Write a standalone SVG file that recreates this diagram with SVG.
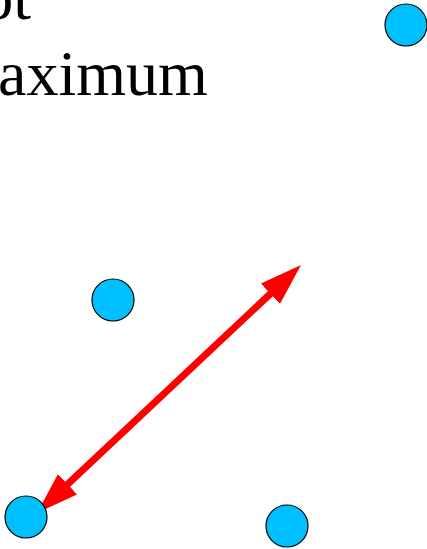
<svg xmlns="http://www.w3.org/2000/svg" width="427" height="549" viewBox="0 0 427 549">
<style>
.node circle { fill: #00BFFF; stroke: #000; stroke-width: 1.2; }
.lbl { font-family: "Liberation Serif", "Times New Roman", serif; font-size: 64px; fill: #000; }
.conn { stroke: #FF0000; stroke-width: 7; fill: none; }
</style>
<defs>
<marker id="head" viewBox="0 0 42 28" refX="21" refY="14" markerWidth="42" markerHeight="28" markerUnits="userSpaceOnUse" orient="auto-start-reverse">
<path d="M0,0 L42,14 L0,28 z" fill="#FF0000"/>
</marker>
</defs>
<g id="text">
<text class="lbl" x="31" y="19" text-anchor="end">ot</text>
<text class="lbl" x="-2" y="95">aximum</text>
</g>
<g id="connectors">
<line class="conn" x1="52.3" y1="498.6" x2="285.7" y2="279.4" marker-start="url(#head)" marker-end="url(#head)"/>
</g>
<g id="node-top-right" class="node"><circle cx="406" cy="25" r="21"/></g>
<g id="node-mid" class="node"><circle cx="113" cy="300" r="21"/></g>
<g id="node-bottom-left" class="node"><circle cx="26" cy="517" r="21"/></g>
<g id="node-bottom-right" class="node"><circle cx="287" cy="526" r="21"/></g>
</svg>
